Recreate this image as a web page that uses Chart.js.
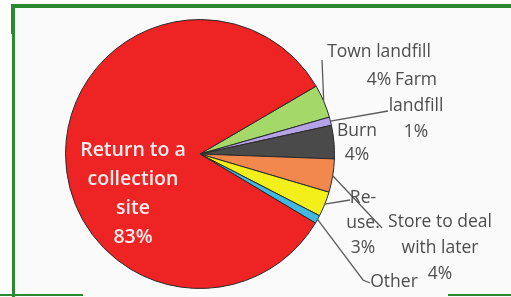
<!DOCTYPE html>
<html>
<head>
<meta charset="utf-8">
<title>Disposal</title>
<script src="https://cdn.jsdelivr.net/npm/chart.js"></script>
<style>
  html, body { margin: 0; padding: 0; background: #fff; }
  #wrap { position: relative; width: 511px; height: 297px; overflow: hidden; }
  #bg { position: absolute; left: 15px; top: 8px; width: 496px; height: 289px; background: #fafafa; }
  .g { position: absolute; background: #2b8a2f; }
  canvas { position: absolute; left: 0; top: 0; }
</style>
</head>
<body>
<div id="wrap">
  <div id="bg"></div>
  <div class="g" style="left:11px;top:4px;width:500px;height:4px"></div>
  <div class="g" style="left:11px;top:4px;width:4px;height:30px"></div>
  <div class="g" style="left:12px;top:30px;width:3px;height:267px"></div>
  <div class="g" style="left:0;top:294px;width:83px;height:2px"></div>
  <div class="g" style="left:448px;top:294px;width:63px;height:2px"></div>
  <canvas id="c" width="511" height="297"></canvas>
</div>
<script>
// data, clockwise from the top of the small slices
const labels = ['Town landfill', 'Farm landfill', 'Burn', 'Store to deal with later', 'Re-use', 'Other', 'Return to a collection site'];
const values = [4, 1, 4, 4, 3, 1, 83];
const colors = ['#a4d869', '#b4a3e6', '#4a4a4a', '#f2884e', '#f2ef1a', '#40b8e0', '#ee2323'];

// label text lines (as wrapped in the picture)
const labelLines = [
  ['Town landfill', '4%'],
  ['Farm', 'landfill', '1%'],
  ['Burn', '4%'],
  ['Store to deal', 'with later', '4%'],
  ['Re-', 'use.', '3%'],
  ['Other'],
  ['Return to a', 'collection', 'site', '83%']
];

// label layout, offsets from the pie centre in pixels
const labelPos = [
  { x: 179, y: -102, lh: 28, leader: [[122, -94]] },
  { x: 216, y: -74, lh: 26, leader: [[188, -43]] },
  { x: 157, y: -23, lh: 24 },
  { x: 240, y: 68, lh: 26, leader: [[182, 74]] },
  { x: 163, y: 44, lh: 25, leader: [[150, 46]] },
  { x: 194, y: 128, lh: 24, leader: [[163, 126], [170, 129]] },
  { x: -67, y: -4, lh: 29, white: true }
];

const labelPlugin = {
  id: 'sliceLabels',
  afterDraw(chart) {
    const ctx = chart.ctx;
    const arcs = chart.getDatasetMeta(0).data;
    ctx.save();
    arcs.forEach((arc, i) => {
      const p = labelPos[i];
      const cx = arc.x, cy = arc.y;
      if (p.leader) {
        const mid = (arc.startAngle + arc.endAngle) / 2;
        ctx.beginPath();
        ctx.moveTo(cx + Math.cos(mid) * arc.outerRadius, cy + Math.sin(mid) * arc.outerRadius);
        p.leader.forEach(pt => ctx.lineTo(cx + pt[0], cy + pt[1]));
        ctx.strokeStyle = '#5a5a5a';
        ctx.lineWidth = 1.3;
        ctx.stroke();
      }
      ctx.textAlign = 'center';
      ctx.textBaseline = 'middle';
      if (p.white) {
        ctx.fillStyle = '#fdeeee';
        ctx.font = '600 19.5px "Open Sans"';
      } else {
        ctx.fillStyle = '#4d4d4d';
        ctx.font = '17.5px "Open Sans"';
      }
      labelLines[i].forEach((t, k) => {
        ctx.fillText(t, cx + p.x, cy + p.y + k * p.lh);
      });
    });
    ctx.restore();
  }
};

new Chart(document.getElementById('c'), {
  type: 'pie',
  data: {
    labels: labels,
    datasets: [{
      data: values,
      backgroundColor: colors,
      borderColor: '#2a2a2a',
      borderWidth: 1
    }]
  },
  options: {
    responsive: false,
    animation: false,
    rotation: 59.7,
    layout: { padding: { left: 65, right: 176, top: 19, bottom: 8 } },
    plugins: {
      legend: { display: false },
      tooltip: { enabled: false }
    }
  },
  plugins: [labelPlugin]
});
</script>
</body>
</html>
